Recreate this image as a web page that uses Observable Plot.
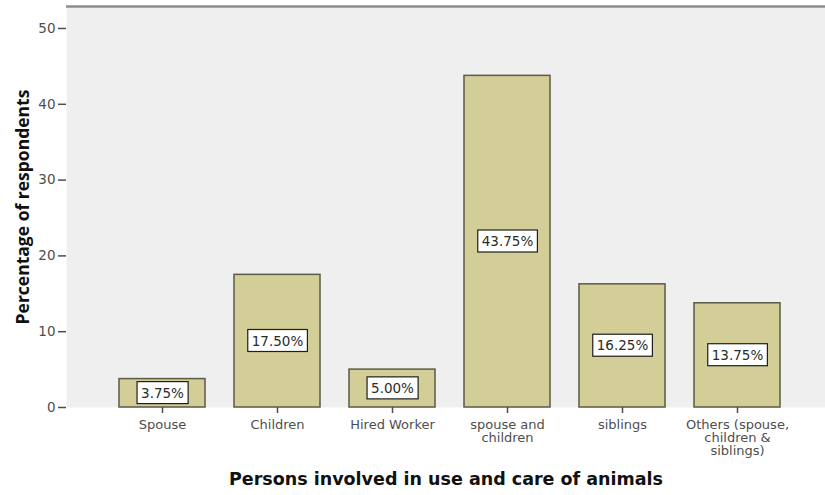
<!DOCTYPE html>
<html>
<head>
<meta charset="utf-8">
<script src="https://cdn.jsdelivr.net/npm/d3@7"></script>
<script src="https://cdn.jsdelivr.net/npm/@observablehq/plot@0.6"></script>
<style>
  html, body { margin: 0; padding: 0; background: #ffffff; }
</style>
</head>
<body>
<div id="chart"></div>
<script>
// Who helps with the use and care of animals (% of respondents)
const categories = [
  "Spouse",
  "Children",
  "Hired Worker",
  "spouse and children",
  "siblings",
  "Others (spouse, children & siblings)"
];
const tickLabels = [
  "Spouse",
  "Children",
  "Hired Worker",
  "spouse and\nchildren",
  "siblings",
  "Others (spouse,\nchildren &\nsiblings)"
];
const percentages = [3.75, 17.50, 5.00, 43.75, 16.25, 13.75];
const yTicks = [0, 10, 20, 30, 40, 50];
const yMax = 52.9;
const xTitle = "Persons involved in use and care of animals";
const yTitle = "Percentage of respondents";

const data = categories.map((c, i) => ({
  category: c,
  value: percentages[i],
  label: d3.format(".2f")(percentages[i]) + "%"
}));
const tickLabelOf = new Map(categories.map((c, i) => [c, tickLabels[i]]));

const chart = Plot.plot({
  width: 825,
  height: 495,
  marginTop: 6,
  marginBottom: 88,
  marginLeft: 66,
  marginRight: 0,
  style: { fontFamily: "DejaVu Sans", background: "#ffffff" },
  x: { domain: categories, range: [66, 834], paddingInner: 0.25, paddingOuter: 0.45 },
  y: { domain: [0, yMax] },
  marks: [
    Plot.frame({ fill: "#efefef" }),
    Plot.ruleY([yMax], { stroke: "#8c8c8c", strokeWidth: 2.5 }),
    Plot.barY(data, {
      x: "category",
      y: "value",
      fill: "#d3cd97",
      stroke: "#5c5a48",
      strokeWidth: 1.5
    }),
    Plot.axisY({
      ticks: yTicks,
      tickSize: 8,
      tickPadding: 3,
      line: true,
      label: null,
      fontSize: 13.5,
      color: "#4e4e4e",
      strokeWidth: 1.5
    }),
    Plot.axisX({
      tickSize: 6,
      tickPadding: 6,
      line: true,
      label: null,
      fontSize: 13,
      lineHeight: 1,
      color: "#4e4e4e",
      strokeWidth: 1.5,
      tickFormat: (d) => tickLabelOf.get(d)
    }),
    Plot.text(data, {
      x: "category",
      y: (d) => d.value / 2,
      text: "label",
      fill: "#2b2b2b",
      fontSize: 13.5
    }),
    Plot.text([xTitle], {
      frameAnchor: "bottom",
      lineAnchor: "middle",
      textAnchor: "middle",
      dy: 72,
      fontSize: 17.5,
      fontWeight: "bold",
      fill: "#111111",
      fontFamily: "DejaVu Sans"
    }),
    Plot.text([yTitle], {
      frameAnchor: "left",
      textAnchor: "middle",
      lineAnchor: "middle",
      rotate: -90,
      dx: -43,
      fontSize: 17.5,
      fontWeight: "bold",
      fill: "#111111",
      fontFamily: "Open Sans"
    })
  ]
});

document.getElementById("chart").append(chart);

// White boxes behind the value labels, sized to each label's text
const valueSet = new Set(data.map((d) => d.label));
chart.querySelectorAll('g[aria-label="text"] text').forEach((t) => {
  if (!valueSet.has(t.textContent)) return;
  const b = t.getBBox();
  const padX = 4, padY = 3;
  const rect = document.createElementNS("http://www.w3.org/2000/svg", "rect");
  rect.setAttribute("x", b.x - padX);
  rect.setAttribute("y", b.y - padY);
  rect.setAttribute("width", b.width + 2 * padX);
  rect.setAttribute("height", b.height + 2 * padY);
  rect.setAttribute("fill", "#ffffff");
  rect.setAttribute("stroke", "#1e1e1e");
  rect.setAttribute("stroke-width", "1.2");
  if (t.getAttribute("transform")) rect.setAttribute("transform", t.getAttribute("transform"));
  t.parentNode.insertBefore(rect, t);
});
</script>
</body>
</html>
